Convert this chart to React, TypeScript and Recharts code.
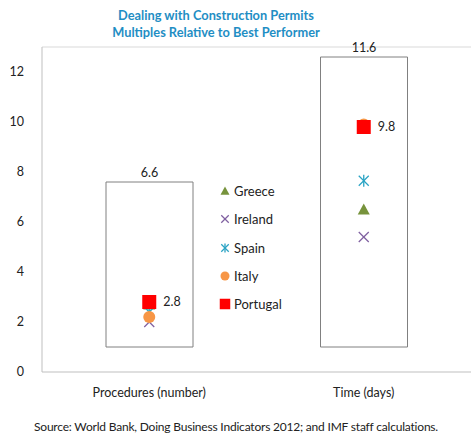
import { ComposedChart, Bar, Line, XAxis, YAxis, ReferenceLine, LabelList } from 'recharts';

const categories = ['Procedures (number)', 'Time (days)'];
const boxLow = [1, 1];
const boxHigh = [7.6, 12.6];
const boxLabels = [6.6, 11.6];

const greece = [2.7, 6.5];
const ireland = [2.0, 5.4];
const spain = [2.4, 7.65];
const italy = [2.2, 9.9];
const portugal = [2.8, 9.8];

const yTicks = [0, 2, 4, 6, 8, 10, 12];

const series = [
  { key: 'greece', name: 'Greece', color: '#77933c', shape: 'triangle' },
  { key: 'ireland', name: 'Ireland', color: '#7f60a0', shape: 'x' },
  { key: 'spain', name: 'Spain', color: '#2aa3c4', shape: 'star' },
  { key: 'italy', name: 'Italy', color: '#f79646', shape: 'circle' },
  { key: 'portugal', name: 'Portugal', color: '#ff0000', shape: 'square' },
];

const data = categories.map((cat, i) => ({
  cat,
  box: [boxLow[i], boxHigh[i]],
  boxLabel: boxLabels[i],
  greece: greece[i],
  ireland: ireland[i],
  spain: spain[i],
  italy: italy[i],
  portugal: portugal[i],
}));

const FONT = 'Lato, "Open Sans", sans-serif';

function marker(shape: string, color: string, cx: number, cy: number, s = 1) {
  switch (shape) {
    case 'triangle':
      return <polygon points={`${cx},${cy - 6 * s} ${cx + 6 * s},${cy + 5 * s} ${cx - 6 * s},${cy + 5 * s}`} fill={color} />;
    case 'x':
      return (
        <g stroke={color} strokeWidth={1.3}>
          <line x1={cx - 5 * s} y1={cy - 5 * s} x2={cx + 5 * s} y2={cy + 5 * s} />
          <line x1={cx - 5 * s} y1={cy + 5 * s} x2={cx + 5 * s} y2={cy - 5 * s} />
        </g>
      );
    case 'star':
      return (
        <g stroke={color} strokeWidth={1.3}>
          <line x1={cx - 5 * s} y1={cy - 5 * s} x2={cx + 5 * s} y2={cy + 5 * s} />
          <line x1={cx - 5 * s} y1={cy + 5 * s} x2={cx + 5 * s} y2={cy - 5 * s} />
          <line x1={cx} y1={cy - 6 * s} x2={cx} y2={cy + 6 * s} />
        </g>
      );
    case 'circle':
      return <circle cx={cx} cy={cy} r={6 * s} fill={color} />;
    default:
      return <rect x={cx - 7 * s} y={cy - 7 * s} width={14 * s} height={14 * s} fill={color} />;
  }
}

const renderBoxLabel = (props: any) => {
  const { x, y, width, index } = props;
  return (
    <text x={x + width / 2} y={y - 5} textAnchor="middle" fontSize={12.5} fill="#222" fontFamily={FONT}>
      {boxLabels[index]}
    </text>
  );
};

export default function App() {
  return (
    <div style={{ position: 'absolute', left: 0, top: 0, width: 472, height: 436, background: '#fff', fontFamily: FONT }}>
      <div style={{ position: 'absolute', left: 0, width: 432, top: 7, textAlign: 'center', color: '#1f8ec4', fontWeight: 700, fontSize: 12.8, lineHeight: '17px' }}>
        Dealing with Construction Permits
        <br />
        Multiples Relative to Best Performer
      </div>
      <ComposedChart width={472} height={436} data={data} margin={{ top: 47, right: 1, bottom: 34, left: 0 }}>
        <XAxis
          dataKey="cat"
          stroke="#bfbfbf"
          tickLine={false}
          height={30}
          tick={{ fill: '#222', fontSize: 12.5, fontFamily: FONT, dy: 8 }}
        />
        <YAxis
          domain={[0, 13]}
          ticks={yTicks}
          width={42}
          stroke="#bfbfbf"
          tickLine={false}
          tickMargin={12}
          tick={{ fill: '#222', fontSize: 12.5, fontFamily: FONT }}
        />
        <ReferenceLine y={13} stroke="#d9d9d9" />
        <Bar dataKey="box" fill="#fff" stroke="#808080" strokeWidth={1} barSize={87} isAnimationActive={false} label={renderBoxLabel} />
        {series.map((s) => (
          <Line
            key={s.key}
            dataKey={s.key}
            stroke="none"
            isAnimationActive={false}
            activeDot={false}
            dot={(p: any) => <g key={`${s.key}-${p.index}`}>{marker(s.shape, s.color, p.cx, p.cy)}</g>}
          >
            {s.key === 'portugal' && (
              <LabelList dataKey="portugal" position="right" offset={14} fontSize={12.5} fill="#222" fontFamily={FONT} />
            )}
          </Line>
        ))}
      </ComposedChart>
      <div style={{ position: 'absolute', left: 219, top: 177 }}>
        {series.map((s) => (
          <div key={s.key} style={{ height: 28.3, display: 'flex', alignItems: 'center', fontSize: 13, color: '#222' }}>
            <svg width={12} height={12} style={{ marginRight: 3 }}>
              {marker(s.shape, s.color, 6, 6, 0.75)}
            </svg>
            {s.name}
          </div>
        ))}
      </div>
      <div style={{ position: 'absolute', left: 0, width: 472, top: 419, textAlign: 'center', fontSize: 12, color: '#222', letterSpacing: -0.2 }}>
        Source: World Bank, Doing Business Indicators 2012; and IMF staff calculations.
      </div>
    </div>
  );
}
